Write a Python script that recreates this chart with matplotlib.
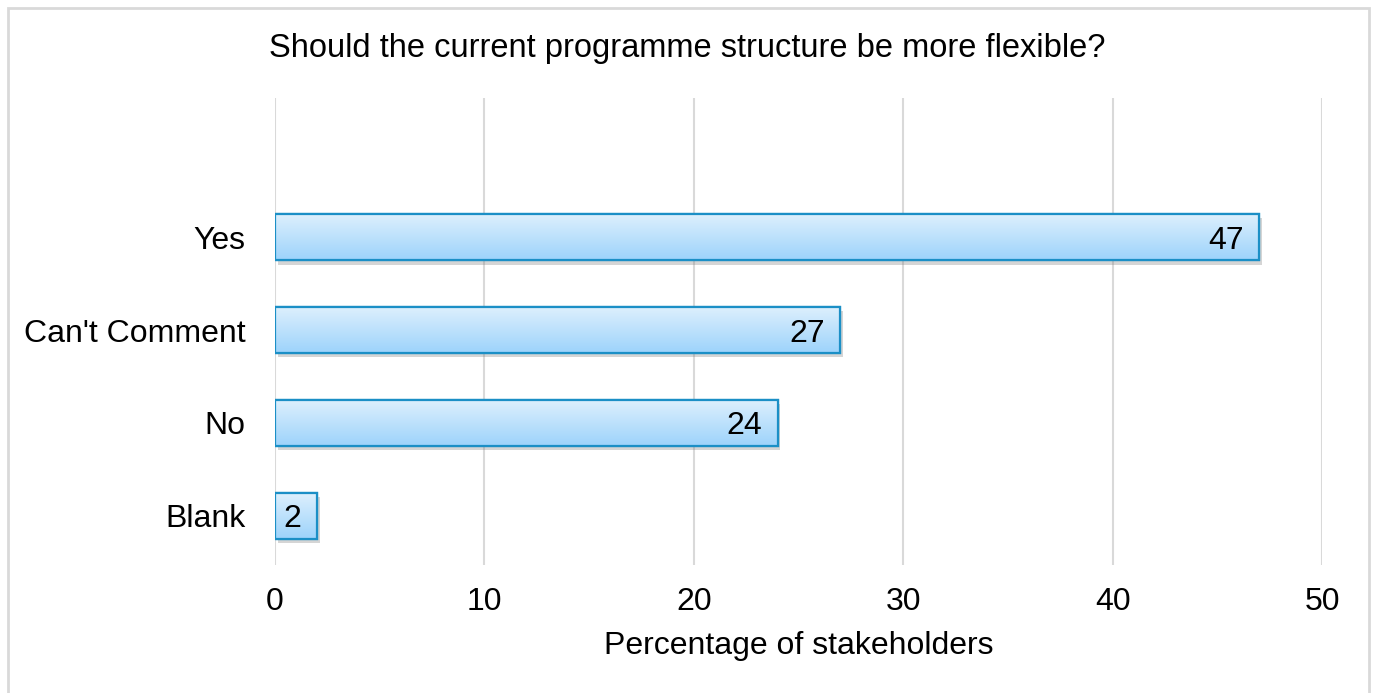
import numpy as np
import matplotlib
matplotlib.use('Agg')
import matplotlib.pyplot as plt
import matplotlib.patheffects as pe
from matplotlib.colors import LinearSegmentedColormap
from matplotlib.patches import Rectangle

categories = ['Blank', 'No', "Can't Comment", 'Yes']
values = [2, 24, 27, 47]
xticks = [0, 10, 20, 30, 40, 50]

plt.rcParams['font.family'] = ['Liberation Sans', 'DejaVu Sans']

fig = plt.figure(figsize=(13.75, 6.93), dpi=100)
ax = fig.add_axes([275/1375, 1 - 565/693, (1322-275)/1375, (565-98)/693])

# outer frame
fig.patches.append(Rectangle((8/1375, -0.1), (1369-8)/1375, 1 - 8/693 + 0.1,
                             transform=fig.transFigure, fill=False,
                             edgecolor='#d9d9d9', linewidth=2))

grad = LinearSegmentedColormap.from_list('bar', ['#9dd3fb', '#def0fd'])
ypos = np.arange(len(categories))
bars = ax.barh(ypos, values, height=0.5, color='none', edgecolor='#1b8fc6',
               linewidth=1.6, zorder=3)
for b in bars:
    b.set_path_effects([pe.SimplePatchShadow(offset=(2, -3), shadow_rgbFace='#777777',
                                             alpha=0.3), pe.Normal()])
    x0, y0 = b.get_x(), b.get_y()
    w, h = b.get_width(), b.get_height()
    im = ax.imshow(np.linspace(0, 1, 100).reshape(-1, 1), cmap=grad, aspect='auto',
                   extent=[x0, x0 + w, y0, y0 + h], origin='lower', zorder=3.5)
    im.set_clip_path(b)
    edge = Rectangle((x0, y0), w, h, fill=False, edgecolor='#1b8fc6', linewidth=1.6,
                     zorder=4)
    ax.add_patch(edge)
    ax.annotate(f'{int(w)}', (x0 + w, y0 + h / 2), xytext=(-11, -2.5),
                textcoords='offset points', ha='right', va='center',
                fontsize=23, zorder=5)

ax.set_xlim(0, 50)
ax.set_ylim(-0.53, 4.5)
ax.set_xticks(xticks)
ax.set_yticks(ypos)
ax.set_yticklabels(categories)
ax.tick_params(axis='both', length=0, labelsize=23)
ax.tick_params(axis='y', pad=21)
ax.tick_params(axis='x', pad=16)
ax.grid(axis='x', color='#d9d9d9', linewidth=1.5, zorder=0)
for s in ax.spines.values():
    s.set_visible(False)
ax.set_xlabel('Percentage of stakeholders', fontsize=23, labelpad=10)
fig.text(0.5, 1 - 48/693, 'Should the current programme structure be more flexible?',
         ha='center', va='center', fontsize=23.5)

fig.savefig('out.png', dpi=100)
